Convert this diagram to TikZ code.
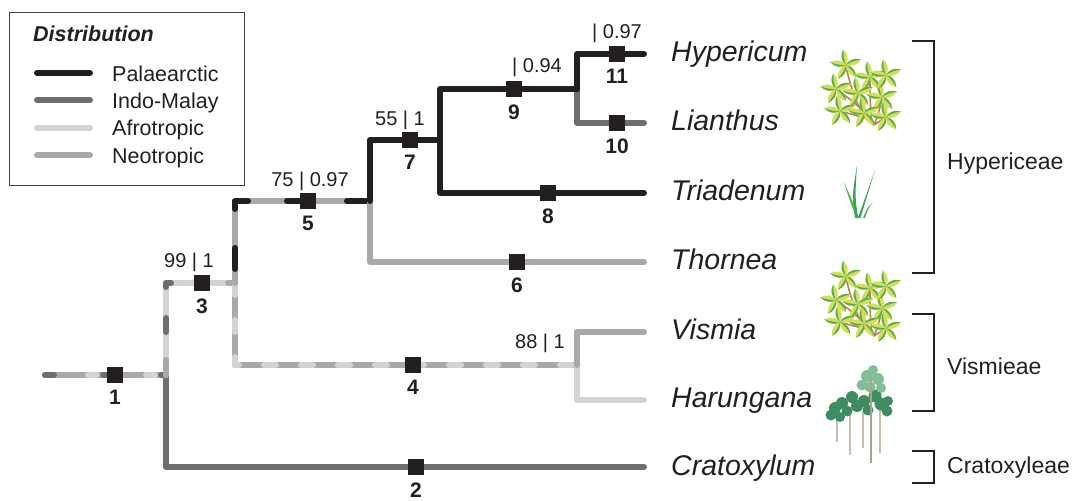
\documentclass[tikz,border=0pt]{standalone}
\usepackage{fontspec}
\setmainfont{Liberation Sans}
\usetikzlibrary{positioning}
\definecolor{palaecolor}{HTML}{231F20}
\definecolor{indocolor}{HTML}{6D6E71}
\definecolor{afrocolor}{HTML}{D1D3D4}
\definecolor{neocolor}{HTML}{A7A9AC}
\definecolor{leafyellow}{HTML}{D3DF5A}
\definecolor{leafgreen}{HTML}{5AAF4A}
\definecolor{stembrown}{HTML}{B5834F}
\definecolor{grassgreen}{HTML}{35A653}
\definecolor{canopydark}{HTML}{3F8B62}
\definecolor{canopylight}{HTML}{82BE96}
\definecolor{trunkcolor}{HTML}{CBBEA8}

\tikzset{
    leaf/.pic={
        \fill[leafyellow] (0,0) .. controls (4,-4) and (4,-11) .. (0,-16) .. controls (-4,-11) and (-4,-4) .. (0,0) -- cycle;
        \fill[leafgreen] (0,0) .. controls (-4,-4) and (-4,-11) .. (0,-16) .. controls (-1.2,-11) and (-1.2,-4) .. (0,0) -- cycle;
    },
    rosette/.pic={
        \foreach \a in {10,80,...,290} { \pic[rotate=\a] at (0,0) {leaf}; }
    },
    shrub/.pic={
        % stems
        \draw[stembrown, line width=1.6pt, line cap=round]
            (16,38) .. controls (2,30) and (-6,5) .. (-12,-20)
            (14,36) .. controls (12,20) and (12,5) .. (12,-8)
            (16,38) .. controls (20,28) .. (24,12)
            (8,31) .. controls (-4,28) .. (-18,24)
            (3,22) .. controls (-8,12) .. (-22,2)
            (9,27) -- (0,6)
            (16,38) -- (28,30);
        % leaf clusters
        \pic[scale=0.9] at (-12,-22) {rosette};
        \pic[scale=0.7] at (12,-10) {rosette};
        \pic[scale=0.7] at (-22,2) {rosette};
        \pic[scale=0.65] at (24,10) {rosette};
        \pic[scale=0.65] at (0,6) {rosette};
        \pic[scale=0.55] at (-18,24) {rosette};
        \pic[scale=0.55] at (6,26) {rosette};
        \pic[scale=0.5] at (28,-12) {rosette};
        \pic[scale=0.5] at (28,30) {rosette};
    },
    grass/.pic={
        \fill[grassgreen!75!leafyellow] (-1,26) .. controls (-8,10) .. (-14,-10) .. controls (-5,10) .. (1,26) -- cycle;
        \fill[grassgreen] (-3,26) .. controls (-6,5) .. (-1,-27) .. controls (-3,5) .. (0,26) -- cycle;
        \fill[grassgreen] (0,26) .. controls (8,2) .. (17,-22) .. controls (10,2) .. (2.5,26) -- cycle;
        \fill[grassgreen!80!leafyellow] (5,26) .. controls (9,16) .. (15,10) .. controls (10,17) .. (7,26) -- cycle;
    },
    trees/.pic={
        % trunks
        \foreach \tx/\ttop/\tbot in {-23/-4/25, -10/-10/38, 3/-6/31, 20/-8/36}
            \draw[trunkcolor, line width=1.5pt] (\tx,\ttop) -- (\tx,\tbot);
        % crowns
        \foreach \cx/\cy/\r in {-29/-2/5.5, -25/-9/6, -18/-14/6, -13/-6/5.5, -8/-20/6, -3/-11/6,
                                4/-16/6, 8/-7/5.5, 15/-21/6.5, 21/-13/6.5, 27/-6/5.5, 28/-16/5, -20/0/5}
            \fill[canopydark] (\cx,\cy) circle (\r);
        \foreach \cx/\cy/\r in {2/-32/5.5, 7/-41/6, 13/-47/5, 18/-38/6, 10/-30/5.5, 21/-29/5}
            \fill[canopylight] (\cx,\cy) circle (\r);
        \draw[trunkcolor!85!black, line width=2pt] (11,-40) -- (11,46);
    }
}

\begin{document}
\begin{tikzpicture}[x=1pt, y=-1pt,
    every node/.style={text=palaecolor},
    branch/.style={line width=6pt, line cap=round, line join=round},
    brsq/.style={fill=palaecolor, minimum size=16pt, inner sep=0pt},
    brnum/.style={font=\fontsize{21}{21}\selectfont\bfseries, inner sep=0pt},
    supp/.style={font=\fontsize{20}{20}\selectfont, inner sep=0pt, anchor=base},
    taxon/.style={font=\fontsize{28.5}{30}\selectfont\itshape, inner sep=0pt, anchor=base west},
    clade/.style={font=\fontsize{23}{24}\selectfont, inner sep=0pt, anchor=base west},
    bracket/.style={palaecolor, line width=1.4pt},
    legtext/.style={font=\fontsize{21.5}{22}\selectfont, inner sep=0pt, anchor=base west}]
    \useasboundingbox (0,0) rectangle (1072,501);

    % Legend
    \draw[palaecolor!85, line width=1pt] (9,12) rectangle (244,185);
    \node[legtext, font=\fontsize{21.5}{22}\selectfont\bfseries\itshape] (legtitle) at (33,41) {Distribution};
    \foreach \i/\col/\name in {0/palaecolor/Palaearctic, 1/indocolor/Indo-Malay, 2/afrocolor/Afrotropic, 3/neocolor/Neotropic} {
        \pgfmathsetmacro{\ly}{73+27.4*\i}
        \draw[branch, \col] (37,\ly) -- (90,\ly);
        \node[legtext] (leg\i) at (112,\ly+8) {\name};
    }

    % Tree nodes and tips
    \coordinate (r) at (45,375);
    \coordinate (a) at (166,375);
    \coordinate (b) at (235,283);
    \coordinate (c) at (370,201);
    \coordinate (d) at (440,140);
    \coordinate (e) at (577,89);
    \coordinate (f) at (577,365);
    \coordinate (tHyp) at (644,54);
    \coordinate (tLia) at (644,123);
    \coordinate (tTri) at (644,193);
    \coordinate (tTho) at (644,262);
    \coordinate (tVis) at (644,332);
    \coordinate (tHar) at (644,400);
    \coordinate (tCra) at (644,467);

    % Mixed branches (several areas)
    \draw[branch, neocolor] (r) -- (a);
    \draw[branch, indocolor, dash pattern=on 9pt off 49pt] (r) -- (a);
    \draw[branch, afrocolor, dash pattern=on 9pt off 49pt, dash phase=15pt] (r) -- (a);

    \draw[branch, indocolor] (a) |- (tCra);

    \draw[branch, afrocolor] (a) |- (b);
    \draw[branch, indocolor, dash pattern=on 14pt off 31pt on 9pt off 300pt, dash phase=311pt] (a) |- (b);
    \draw[branch, neocolor, dash pattern=on 15pt off 139pt on 20pt off 200pt] (a) |- (b);

    \draw[branch, neocolor] (b) |- (f);
    \draw[branch, afrocolor, dash pattern=on 12pt off 25pt] (b) |- (f);

    \draw[branch, neocolor] (b) |- (c);
    \draw[branch, palaecolor, dash pattern=on 21pt off 39pt, dash phase=46pt] (b) |- (c);

    % Single-area branches
    \draw[branch, afrocolor] (f) |- (tHar);
    \draw[branch, neocolor] (f) |- (tVis);
    \draw[branch, neocolor] (c) |- (tTho);
    \draw[branch, indocolor] (e) |- (tLia);
    \draw[branch, palaecolor] (c) |- (d);
    \draw[branch, palaecolor] (d) |- (tTri);
    \draw[branch, palaecolor] (d) |- (e);
    \draw[branch, palaecolor] (e) |- (tHyp);

    % Branch markers and numbers
    \foreach \n/\px/\py in {1/115/375, 2/416/467, 3/202/283, 4/413/365, 5/308/201, 6/517/262,
                            7/410/140, 8/548/193, 9/514/89, 10/617/123, 11/617/54} {
        \node[brsq] (sq\n) at (\px,\py) {};
        \node[brnum, below=7pt of sq\n] (num\n) {\n};
    }

    % Support values
    \node[supp] (bs3) at (189,267) {99 | 1};
    \node[supp] (bs5) at (310,186) {75 | 0.97};
    \node[supp] (bs7) at (400,125) {55 | 1};
    \node[supp] (bs9) at (537,72) {| 0.94};
    \node[supp] (bs11) at (617,38) {| 0.97};
    \node[supp] (bs4) at (540,348) {88 | 1};

    % Genera
    \node[taxon] (hyp) at (671,61) {Hypericum};
    \node[taxon] (lia) at (671,130) {Lianthus};
    \node[taxon] (tri) at (671,200) {Triadenum};
    \node[taxon] (tho) at (671,269) {Thornea};
    \node[taxon] (vis) at (671,339) {Vismia};
    \node[taxon] (har) at (671,407) {Harungana};
    \node[taxon] (cra) at (671,475) {Cratoxylum};

    % Growth forms
    \pic at (858,87) {shrub};
    \pic at (858,192) {grass};
    \pic at (858,298) {shrub};
    \pic at (860,417) {trees};

    % Tribes
    \draw[bracket] (912,41) -- (934,41) -- (934,273) -- (912,273);
    \draw[bracket] (912,314) -- (934,314) -- (934,411) -- (912,411);
    \draw[bracket] (912,451) -- (934,451) -- (934,483) -- (912,483);
    \node[clade] (hyperic) at (947,169) {Hypericeae};
    \node[clade] (vismie) at (947,374) {Vismieae};
    \node[clade] (cratox) at (947,473) {Cratoxyleae};
\end{tikzpicture}
\end{document}
